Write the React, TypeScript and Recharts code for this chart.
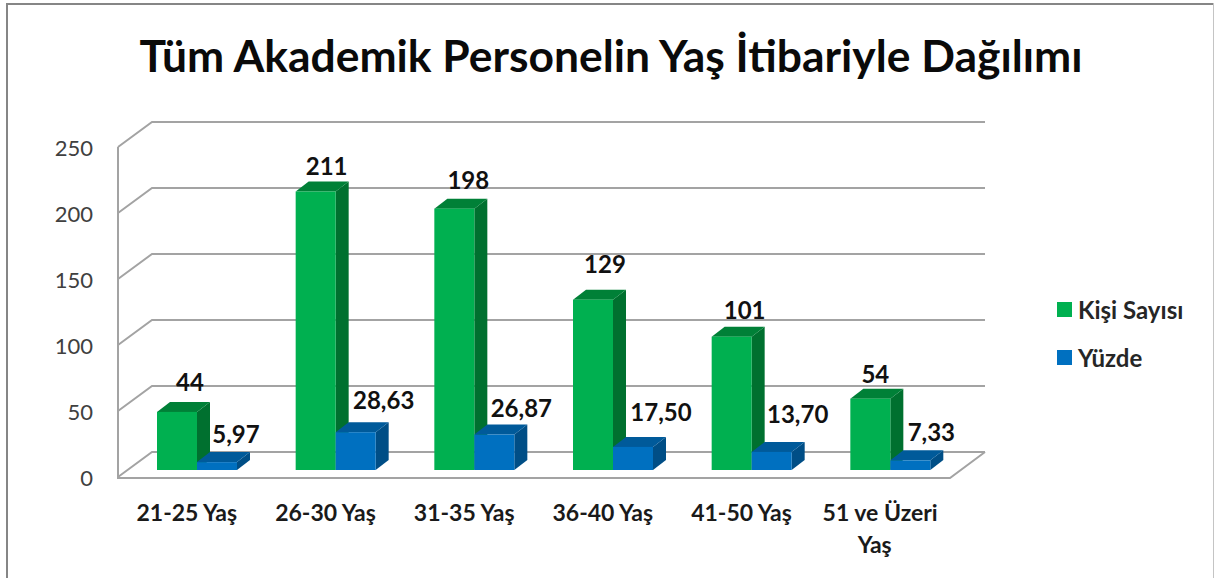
import { BarChart, Bar, XAxis, YAxis, CartesianGrid, Legend, LabelList } from "recharts";

const categories = ["21-25 Yaş", "26-30 Yaş", "31-35 Yaş", "36-40 Yaş", "41-50 Yaş", "51 ve Üzeri Yaş"];
const kisiSayisi = [44, 211, 198, 129, 101, 54];
const yuzde = [5.97, 28.63, 26.87, 17.5, 13.7, 7.33];
const yTicks = [0, 50, 100, 150, 200, 250];

// labels were hand-placed in the original, offsets from bar left / bar top
const kisiNudge = [[33, -29], [31, -24], [34, -28], [32, -35], [33, -26], [25, -24]];
const yuzdeNudge = [[39, -27], [48, -31], [47, -26], [48, -34], [46, -37], [41, -27]];

const FONT = "Lato, sans-serif";
const DEPTH_X = 13;
const DEPTH_Y = 10;

const chartData = categories.map((name, i) => ({ name, kisi: kisiSayisi[i], yuzde: yuzde[i] }));

function Bar3D({ x, y, width, height, front, side, top }: any) {
  const r = x + width;
  const b = y + height;
  return (
    <g>
      <polygon points={`${r},${y} ${r + DEPTH_X},${y - DEPTH_Y} ${r + DEPTH_X},${b - DEPTH_Y} ${r},${b}`} fill={side} />
      <polygon points={`${x},${y} ${x + DEPTH_X},${y - DEPTH_Y} ${r + DEPTH_X},${y - DEPTH_Y} ${r},${y}`} fill={top} />
      <rect x={x} y={y} width={width} height={height} fill={front} />
    </g>
  );
}

// grid line goes from the front of the left wall, to the back wall, then across
function WallLine({ x1, x2, y1, index }: any) {
  const isFloor = index === 0;
  return (
    <g fill="none" stroke="#a3a3a3" strokeWidth={2}>
      <polyline points={`${x1 - 10},${y1 + 7} ${x1 + 24},${y1 - 18} ${x2 + 25},${y1 - 18}`} />
      {isFloor && <polyline points={`${x1 - 10},${y1 + 8} ${x2 - 10},${y1 + 8} ${x2 + 25},${y1 - 18}`} />}
      {isFloor && <line x1={x1 - 10} y1={y1 + 9} x2={x1 - 10} y2={y1 - 323} />}
    </g>
  );
}

function YTick({ x, y, payload }: any) {
  return (
    <text x={x - 27} y={y + 16} textAnchor="end" fontFamily={FONT} fontSize={22} fill="#404040">
      {payload.value}
    </text>
  );
}

function XTick({ x, y, payload }: any) {
  const label: string = payload.value;
  const wrapped = label.length > 10;
  const first = wrapped ? label.slice(0, label.lastIndexOf(" ")) : label;
  return (
    <g fontFamily={FONT} fontSize={23} fontWeight={700} fill="#1a1a1a" textAnchor="middle">
      <text x={x - 10.5} y={y + 43}>{first}</text>
      {wrapped && <text x={x - 16} y={y + 75}>Yaş</text>}
    </g>
  );
}

function valueLabel(nudge: number[][], format: (v: number) => string) {
  return ({ x, y, index, value }: any) => (
    <text
      x={x + nudge[index][0]}
      y={y + nudge[index][1] + 8}
      textAnchor="middle"
      fontFamily={FONT}
      fontSize={24}
      fontWeight={700}
      fill="#111"
    >
      {format(value)}
    </text>
  );
}

function LegendBox({ payload }: any) {
  return (
    <div style={{ fontFamily: FONT, fontSize: 24, fontWeight: 700, color: "#262626" }}>
      {payload.map((p: any) => (
        <div key={p.value} style={{ display: "flex", alignItems: "center", height: 24, marginBottom: 24 }}>
          <span style={{ width: 15, height: 15, background: p.color, marginRight: 6 }} />
          {p.value}
        </div>
      ))}
    </div>
  );
}

export default function App() {
  return (
    <div style={{ position: "absolute", left: 0, top: 0, width: 1215, height: 578, background: "#fff", overflow: "hidden" }}>
      <div style={{ position: "absolute", left: 6, top: 3, width: 1207, height: 2, background: "#868686" }} />
      <div style={{ position: "absolute", left: 6, top: 3, width: 2, height: 575, background: "#868686" }} />
      <div style={{ position: "absolute", left: 1213, top: 3, width: 1, height: 575, background: "#c4c4c4" }} />
      <div
        style={{
          position: "absolute", left: 0, top: 28, width: 1222, textAlign: "center",
          fontFamily: FONT, fontWeight: 700, fontSize: 44.4, color: "#0a0a0a", whiteSpace: "nowrap",
        }}
      >
        Tüm Akademik Personelin Yaş İtibariyle Dağılımı
      </div>
      <BarChart
        width={1215}
        height={578}
        data={chartData}
        barSize={40}
        barGap={0}
        margin={{ top: 140, right: 95, bottom: 48, left: 68 }}
      >
        <CartesianGrid vertical={false} horizontal={(p: any) => <WallLine {...p} />} />
        <XAxis dataKey="name" height={60} axisLine={false} tickLine={false} interval={0} tick={<XTick />} />
        <YAxis width={60} domain={[0, 250]} ticks={yTicks} axisLine={false} tickLine={false} tick={<YTick />} />
        <Legend
          layout="vertical"
          align="right"
          verticalAlign="top"
          width={160}
          content={<LegendBox />}
          wrapperStyle={{ left: 1057, top: 297 }}
        />
        <Bar
          dataKey="kisi"
          name="Kişi Sayısı"
          fill="#00B050"
          isAnimationActive={false}
          shape={(p: any) => <Bar3D {...p} front="#00B050" side="#00702F" top="#008037" />}
        >
          <LabelList dataKey="kisi" content={valueLabel(kisiNudge, (v) => String(v))} />
        </Bar>
        <Bar
          dataKey="yuzde"
          name="Yüzde"
          fill="#0070C0"
          isAnimationActive={false}
          shape={(p: any) => <Bar3D {...p} front="#0070C0" side="#004E86" top="#005A9A" />}
        >
          <LabelList dataKey="yuzde" content={valueLabel(yuzdeNudge, (v) => v.toFixed(2).replace(".", ","))} />
        </Bar>
      </BarChart>
    </div>
  );
}
